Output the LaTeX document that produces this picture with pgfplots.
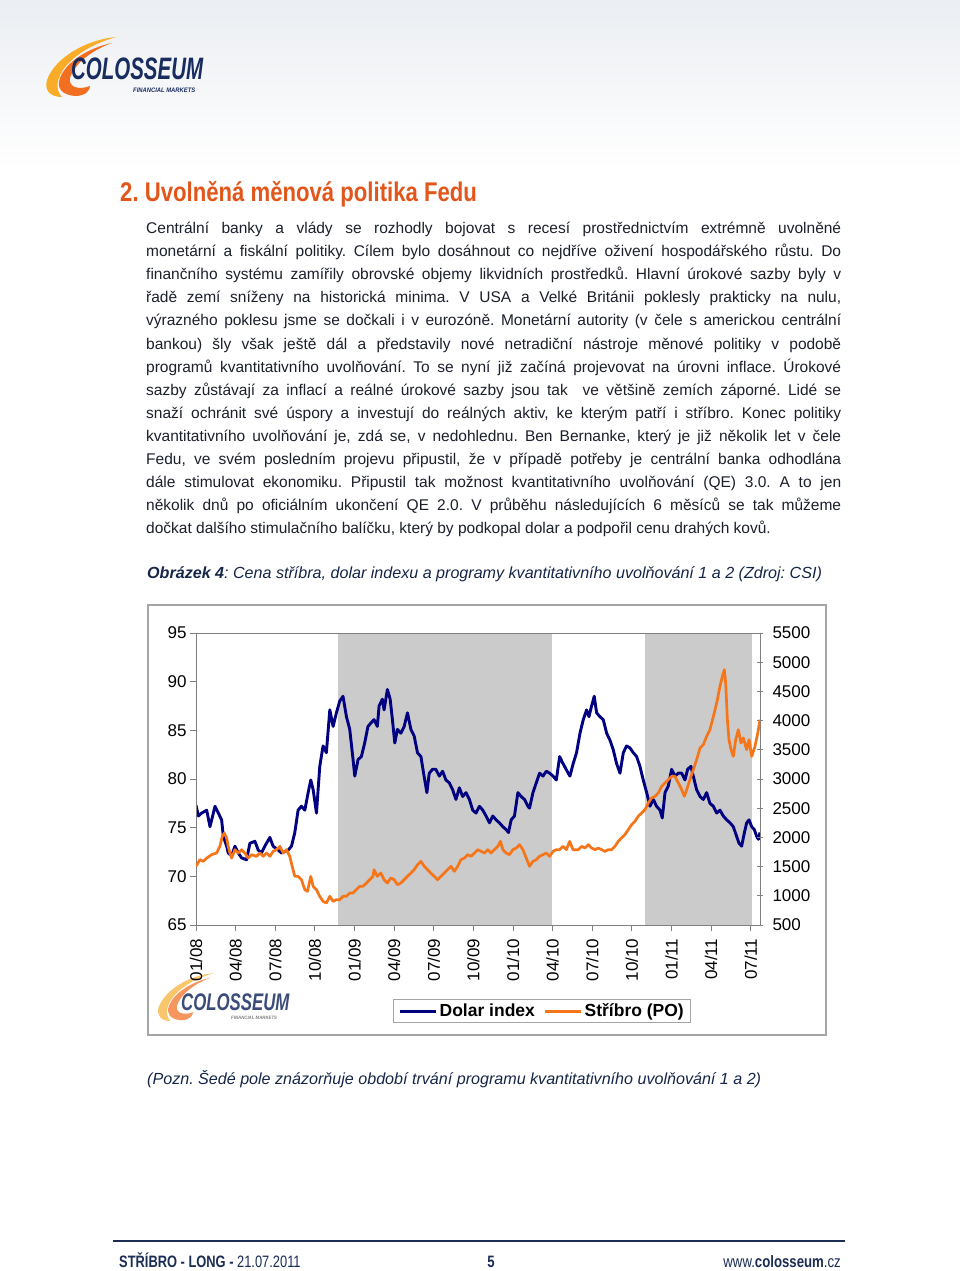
\documentclass[border=0pt]{standalone}
\usepackage{pgfplots}
\pgfplotsset{compat=1.18}
\usepackage{fontspec}
\setmainfont{Liberation Sans}
\usepackage{graphicx}
\definecolor{navyline}{RGB}{0,0,128}
\definecolor{orangeline}{RGB}{247,117,25}
\definecolor{qegray}{RGB}{203,203,203}
\definecolor{headorange}{RGB}{226,86,28}
\definecolor{bodytext}{RGB}{28,32,45}
\definecolor{capnavy}{RGB}{22,38,72}
\definecolor{logonavy}{RGB}{24,44,96}
\definecolor{logoorange}{RGB}{242,110,33}
\definecolor{logoyellow}{RGB}{248,172,40}
\definecolor{footnavy}{RGB}{28,45,85}
\definecolor{topgray}{RGB}{235,238,242}
\definecolor{axisgray}{RGB}{128,128,128}
\definecolor{framegray}{RGB}{165,165,165}
\frenchspacing
\newcommand\JL[1]{\hbox to 695pt{#1}}
\newcommand\swoosh[2]{%
  \fill[#1] (71,0) .. controls (40,-3) and (10,-21) .. (2,-43) .. controls (-1,-53) and (5,-60) .. (17,-60) .. controls (10,-53) and (11,-41) .. (21,-29) .. controls (33,-15) and (51,-6) .. (71,0) -- cycle;
  \fill[#2] (67,-6) .. controls (43,-11) and (21,-25) .. (15,-41) .. controls (11,-51) and (17,-58) .. (30,-59) .. controls (41,-59) and (45,-53) .. (45,-49) .. controls (35,-53) and (23,-51) .. (25,-41) .. controls (29,-27) and (47,-13) .. (67,-6) -- cycle;}
\begin{document}
\begin{tikzpicture}
\useasboundingbox (0pt,0pt) rectangle (960pt,-1271pt);
\begin{scope}[x=1pt,y=1pt]
\fill[white] (0,0) rectangle (960,-1271);
\shade[top color=topgray, bottom color=white] (0,0) rectangle (960,-170);
% header logo
\begin{scope}[shift={(45,-37)}]
\swoosh{logoyellow}{logoorange}
\end{scope}
\node[anchor=base west, inner sep=0, text depth=0pt, text=logonavy] at (71,-80) {\scalebox{0.66}[1]{\fontsize{31}{31}\selectfont\bfseries\itshape COLOSSEUM}};
\node[anchor=base west, inner sep=0, text height=4.6pt, text=logonavy] at (133,-92.5) {\scalebox{0.9}[1]{\fontsize{6.5}{6.5}\selectfont\bfseries\itshape FINANCIAL MARKETS}};
% heading
\node[anchor=base west, inner sep=0, text=headorange] at (120,-201) {\scalebox{0.82}[1]{\fontsize{27}{27}\selectfont\bfseries 2. Uvolněná měnová politika Fedu}};
% body
\node[anchor=base west, inner sep=0, text=bodytext] at (146,-233.5) {\vtop{\fontsize{15.5}{23.1}\selectfont\baselineskip=23.1pt
\JL{Centrální banky a vlády se rozhodly bojovat s recesí prostřednictvím extrémně uvolněné}
\JL{monetární a fiskální politiky. Cílem bylo dosáhnout co nejdříve oživení hospodářského růstu. Do}
\JL{finančního systému zamířily obrovské objemy likvidních prostředků. Hlavní úrokové sazby byly v}
\JL{řadě zemí sníženy na historická minima. V USA a Velké Británii poklesly prakticky na nulu,}
\JL{výrazného poklesu jsme se dočkali i v eurozóně. Monetární autority (v čele s americkou centrální}
\JL{bankou) šly však ještě dál a představily nové netradiční nástroje měnové politiky v podobě}
\JL{programů kvantitativního uvolňování. To se nyní již začíná projevovat na úrovni inflace. Úrokové}
\JL{sazby zůstávají za inflací a reálné úrokové sazby jsou tak\ \ ve většině zemích záporné. Lidé se}
\JL{snaží ochránit své úspory a investují do reálných aktiv, ke kterým patří i stříbro. Konec politiky}
\JL{kvantitativního uvolňování je, zdá se, v nedohlednu. Ben Bernanke, který je již několik let v čele}
\JL{Fedu, ve svém posledním projevu připustil, že v případě potřeby je centrální banka odhodlána}
\JL{dále stimulovat ekonomiku. Připustil tak možnost kvantitativního uvolňování (QE) 3.0. A to jen}
\JL{několik dnů po oficiálním ukončení QE 2.0. V průběhu následujících 6 měsíců se tak můžeme}
\hbox{dočkat dalšího stimulačního balíčku, který by podkopal dolar a podpořil cenu drahých kovů.}}};
% caption
\node[anchor=base west, inner sep=0, text=capnavy] at (147,-578) {\fontsize{16.1}{18}\selectfont\itshape\textbf{Obrázek 4}: Cena stříbra, dolar indexu a programy kvantitativního uvolňování 1 a 2 (Zdroj: CSI)};
% chart frame
\draw[framegray, line width=1.2] (148,-605) rectangle (826,-1035);
% chart logo (faded)
\begin{scope}[shift={(157,-973)}, scale=0.8, opacity=0.85]
\swoosh{logoyellow!80}{logoorange!85}
\end{scope}
\node[anchor=base west, inner sep=0, text depth=0pt, text=logonavy!85] at (181,-1010) {\scalebox{0.70}[1]{\fontsize{24}{24}\selectfont\bfseries\itshape COLOSSEUM}};
\node[anchor=base west, inner sep=0, text height=3.5pt, text=gray] at (231,-1019) {\scalebox{0.9}[1]{\fontsize{4.8}{5}\selectfont\bfseries\itshape FINANCIAL MARKETS}};
% note
\node[anchor=base west, inner sep=0, text=capnavy] at (147,-1084) {\fontsize{16.1}{18}\selectfont\itshape (Pozn. Šedé pole znázorňuje období trvání programu kvantitativního uvolňování 1 a 2)};
% footer
\draw[footnavy, line width=1.6] (113,-1241) -- (845,-1241);
\node[anchor=base west, inner sep=0, text=footnavy] at (119,-1267) {\scalebox{0.78}[1]{\fontsize{16.5}{18}\selectfont\textbf{STŘÍBRO - LONG -} 21.07.2011}};
\node[anchor=base, inner sep=0, text=footnavy] at (491,-1267) {\scalebox{0.8}[1]{\fontsize{16.5}{18}\selectfont\textbf{5}}};
\node[anchor=base east, inner sep=0, text=footnavy] at (841,-1267) {\scalebox{0.8}[1]{\fontsize{16.5}{18}\selectfont www.\textbf{colosseum}.cz}};
\end{scope}

% ---------- left axis: Dolar index ----------
\begin{axis}[
  at={(196pt,-925pt)}, anchor=south west,
  scale only axis, width=564pt, height=292pt,
  xmin=0, xmax=42.7, ymin=65, ymax=95,
  axis y line*=left,
  xtick pos=left,
  axis line style={draw=axisgray, line width=0.9pt},
  every tick/.style={draw=axisgray, line width=0.8pt},
  major tick length=6pt,
  tick align=outside,
  xtick={0,3,...,42},
  xticklabels={01/08,04/08,07/08,10/08,01/09,04/09,07/09,10/09,01/10,04/10,07/10,10/10,01/11,04/11,07/11},
  xticklabel style={rotate=90, anchor=east, font=\fontsize{17}{17}\selectfont, text=black},
  xticklabel shift=4pt,
  ytick={65,70,...,95},
  yticklabel style={font=\fontsize{17}{17}\selectfont, text=black},
  /pgf/number format/assume math mode=true,
  axis on top,
]
\addplot[draw=none, fill=qegray] coordinates {(10.77,95) (26.93,95)} \closedcycle;
\addplot[draw=none, fill=qegray] coordinates {(33.99,95) (42.11,95)} \closedcycle;
\addplot[navyline, line width=2.9pt, line join=round] coordinates {
(0.00,77.3) (0.18,76.2) (0.43,76.5) (0.81,76.8) (1.06,75.1) (1.44,77.2) (1.69,76.5) (1.94,75.8) (2.07,74.1) (2.32,73.1) (2.44,72.4) (2.70,72.1) (2.95,73.1) (3.20,72.4) (3.45,71.9) (3.83,71.7) (4.08,73.4) (4.46,73.6) (4.71,72.7) (4.96,72.4) (5.21,73.1) (5.59,74.0) (5.84,73.1) (6.22,72.7) (6.47,72.4) (6.98,72.7) (7.23,73.1) (7.48,74.5) (7.73,76.8) (7.98,77.2) (8.24,76.8) (8.49,78.6) (8.69,79.9) (8.87,78.9) (9.12,76.5) (9.37,81.3) (9.62,83.4) (9.87,82.7) (10.13,87.1) (10.38,85.4) (10.63,86.8) (10.88,88.0) (11.13,88.5) (11.39,86.4) (11.64,85.1) (11.89,82.0) (12.02,80.3) (12.27,82.0) (12.52,82.3) (12.77,83.7) (13.02,85.4) (13.27,85.8) (13.48,86.1) (13.73,85.4) (13.86,87.5) (14.11,88.2) (14.24,87.1) (14.49,89.2) (14.70,88.2) (14.87,86.1) (15.05,83.7) (15.25,85.1) (15.51,84.7) (15.76,85.4) (16.01,86.8) (16.27,85.1) (16.52,84.4) (16.77,82.7) (17.03,82.3) (17.23,80.6) (17.48,78.6) (17.66,80.6) (17.91,81.0) (18.16,81.0) (18.42,80.3) (18.67,80.8) (18.92,79.9) (19.18,79.6) (19.43,78.9) (19.68,77.9) (19.94,79.1) (20.19,78.2) (20.44,78.6) (20.70,77.9) (20.95,76.8) (21.20,76.5) (21.46,77.2) (21.71,76.8) (21.96,76.2) (22.22,75.5) (22.47,76.2) (22.72,75.8) (22.97,75.5) (23.23,75.1) (23.48,74.8) (23.66,74.5) (23.86,75.8) (24.11,76.2) (24.37,78.6) (24.62,78.2) (24.87,77.9) (25.13,77.2) (25.25,77.0) (25.51,78.6) (25.76,79.6) (26.01,80.6) (26.27,80.3) (26.52,80.8) (26.77,80.6) (27.03,80.3) (27.28,79.9) (27.53,82.3) (27.78,81.6) (28.18,80.6) (28.31,80.3) (28.56,81.6) (28.81,82.7) (29.07,84.7) (29.32,86.1) (29.57,87.1) (29.75,86.4) (29.95,87.5) (30.15,88.5) (30.33,86.8) (30.58,86.4) (30.83,86.1) (31.09,84.7) (31.34,84.0) (31.59,83.0) (31.84,81.6) (32.10,80.6) (32.35,82.7) (32.60,83.4) (32.85,83.2) (33.11,82.7) (33.36,82.3) (33.61,81.3) (33.86,79.9) (34.12,78.6) (34.37,77.2) (34.62,77.9) (34.87,77.2) (35.13,76.8) (35.30,76.0) (35.51,78.6) (35.76,79.3) (36.01,81.0) (36.26,80.3) (36.52,80.6) (36.77,80.6) (37.02,79.9) (37.22,81.0) (37.47,81.3) (37.65,80.3) (37.90,78.9) (38.16,78.2) (38.41,77.9) (38.66,78.6) (38.91,77.5) (39.17,77.2) (39.42,76.5) (39.67,76.8) (39.92,76.2) (40.18,75.8) (40.43,75.5) (40.68,75.1) (40.93,74.1) (41.11,73.4) (41.31,73.1) (41.52,74.5) (41.69,75.5) (41.87,75.8) (42.07,75.1) (42.27,74.8) (42.45,74.1) (42.58,73.8) (42.70,74.5)
};
\end{axis}

% ---------- right axis: silver ----------
\begin{axis}[
  at={(196pt,-925pt)}, anchor=south west,
  scale only axis, width=564pt, height=292pt,
  xmin=0, xmax=42.7, ymin=500, ymax=5500,
  axis y line*=right, axis x line=none,
  axis line style={draw=axisgray, line width=0.9pt},
  every tick/.style={draw=axisgray, line width=0.8pt},
  major tick length=6pt,
  tick align=center,
  ytick={500,1000,...,5500},
  scaled y ticks=false,
  yticklabel style={font=\fontsize{17}{17}\selectfont, text=black, /pgf/number format/1000 sep={}},
  yticklabel shift=6pt,
  /pgf/number format/assume math mode=true,
  legend columns=2,
  legend style={at={(0.614,-0.295)}, anchor=center, draw=framegray, line width=0.8pt,
    font=\bfseries\fontsize{17.5}{20}\selectfont, inner xsep=5pt, inner ysep=2pt,
    /tikz/every even column/.append style={column sep=7pt}},
  legend image code/.code={\draw[#1] (0pt,0pt) -- (36pt,0pt);},
]
\addlegendimage{navyline, line width=2.9pt}
\addlegendentry{Dolar index}
\addplot[orangeline, line width=2.7pt, line join=round] coordinates {
(0.00,1505) (0.30,1619) (0.55,1590) (0.81,1647) (1.18,1704) (1.56,1733) (1.81,1847) (1.99,2018) (2.14,2075) (2.32,1990) (2.44,1847) (2.57,1733) (2.70,1647) (2.95,1790) (3.20,1733) (3.45,1790) (3.70,1733) (3.95,1647) (4.21,1704) (4.58,1676) (4.84,1733) (5.09,1676) (5.34,1733) (5.59,1676) (5.84,1761) (6.09,1790) (6.35,1847) (6.60,1733) (6.85,1790) (7.10,1676) (7.28,1505) (7.48,1333) (7.73,1333) (7.98,1276) (8.24,1105) (8.44,1077) (8.69,1333) (8.87,1162) (9.12,1105) (9.37,991) (9.62,905) (9.87,877) (10.13,991) (10.38,905) (10.63,934) (10.88,934) (11.13,991) (11.39,991) (11.64,1048) (11.89,1048) (12.14,1105) (12.39,1162) (12.64,1162) (12.90,1219) (13.15,1276) (13.40,1333) (13.48,1448) (13.73,1333) (13.99,1390) (14.24,1276) (14.49,1219) (14.75,1305) (15.00,1276) (15.25,1191) (15.51,1219) (15.76,1276) (16.01,1333) (16.27,1390) (16.52,1448) (16.77,1533) (17.03,1590) (17.28,1505) (17.53,1448) (17.78,1390) (18.04,1333) (18.29,1276) (18.54,1333) (18.80,1390) (19.05,1448) (19.30,1505) (19.56,1419) (19.81,1505) (20.06,1619) (20.32,1647) (20.57,1704) (20.82,1676) (21.08,1733) (21.33,1790) (21.58,1761) (21.84,1733) (22.09,1790) (22.34,1733) (22.59,1790) (22.85,1847) (23.05,1933) (23.23,1790) (23.48,1733) (23.73,1704) (23.99,1790) (24.24,1818) (24.49,1876) (24.75,1790) (25.00,1647) (25.25,1505) (25.51,1590) (25.76,1619) (26.01,1676) (26.27,1704) (26.52,1733) (26.77,1676) (27.03,1761) (27.28,1790) (27.53,1790) (27.78,1847) (28.04,1790) (28.29,1933) (28.54,1790) (28.94,1790) (29.19,1847) (29.44,1818) (29.70,1876) (29.95,1818) (30.20,1790) (30.45,1818) (30.71,1790) (30.96,1761) (31.21,1790) (31.46,1790) (31.72,1847) (31.97,1933) (32.22,1990) (32.47,2047) (32.73,2133) (32.98,2218) (33.23,2275) (33.48,2361) (33.74,2418) (33.99,2475) (34.24,2589) (34.49,2675) (34.75,2703) (35.00,2760) (35.25,2875) (35.51,2932) (35.76,2989) (36.01,3046) (36.26,3046) (36.52,2932) (36.77,2818) (36.97,2703) (37.15,2818) (37.40,2989) (37.65,3160) (37.90,3331) (38.16,3531) (38.41,3588) (38.66,3731) (38.91,3845) (39.17,4073) (39.42,4302) (39.67,4587) (39.85,4758) (40.00,4873) (40.10,4644) (40.23,4016) (40.35,3674) (40.51,3502) (40.68,3388) (40.86,3674) (41.06,3845) (41.26,3617) (41.44,3702) (41.69,3502) (41.87,3674) (42.07,3388) (42.32,3560) (42.53,3788) (42.70,4016)
};
\addlegendentry{Stříbro (PO)}
\end{axis}
\end{tikzpicture}
\end{document}
